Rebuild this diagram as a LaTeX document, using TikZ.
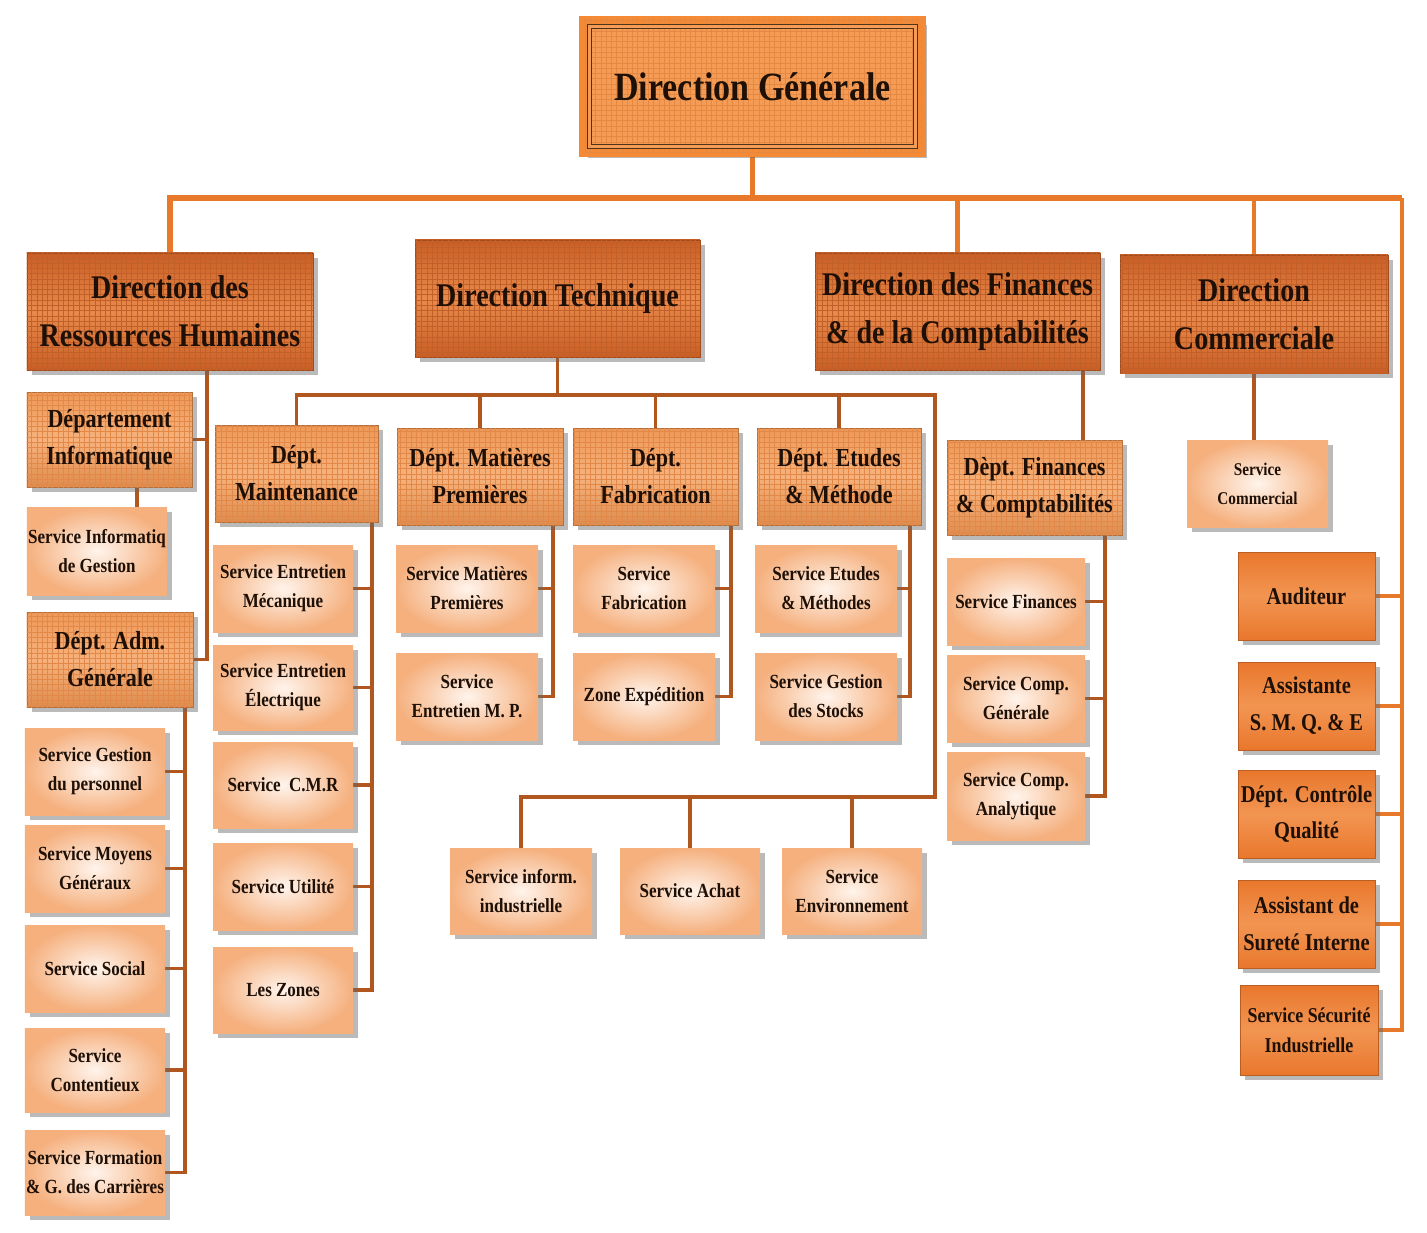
\documentclass[tikz,border=0pt]{standalone}
\usepackage{fontspec}
\newfontfamily\orgfont[FakeStretch=0.85]{Liberation Serif}
\usetikzlibrary{shadows,patterns}
\pgfdeclarelayer{background}
\pgfsetlayers{background,main}
\definecolor{busor}{HTML}{E8782A}
\definecolor{brln}{HTML}{B0561E}
\definecolor{txt}{HTML}{1E1006}
\definecolor{lonem}{HTML}{E98A4C}
\definecolor{lonee}{HTML}{C95E25}
\definecolor{dpt}{HTML}{EE9856}
\definecolor{dptm}{HTML}{F6B27C}
\definecolor{dpte}{HTML}{DE8C4E}
\definecolor{svin}{HTML}{FFF4EC}
\definecolor{svout}{HTML}{F5B07E}
\definecolor{rc}{HTML}{E9772C}
\definecolor{rcm}{HTML}{F29552}
\definecolor{dgfill}{HTML}{F49C55}
\definecolor{dgedge}{HTML}{F58A36}
\definecolor{gridone}{HTML}{C2602A}
\definecolor{griddpt}{HTML}{E2894A}
\definecolor{griddg}{HTML}{E58842}
\newcommand\bx[7]{%
  \pgfmathsetmacro\myxc{(#3+#5)/2}%
  \pgfmathsetmacro\myyc{(#4+#6)/2}%
  \pgfmathsetmacro\myw{(#5-#3)*0.02}%
  \pgfmathsetmacro\myh{(#6-#4)*0.02}%
  \node[#2, minimum width=\myw cm, minimum height=\myh cm] (#1) at (\myxc,\myyc) {#7};}
\tikzset{
  base/.style={inner sep=0pt, align=center, text=txt},
  shd/.style={drop shadow={shadow xshift=3pt, shadow yshift=-3pt, fill=black!60, opacity=.45}},
  grd/.style={postaction={pattern=grid, pattern color=#1}},
  dgbox/.style={base, shd, fill=dgfill, draw=dgedge, line width=4pt, grd=griddg,
    font=\orgfont\bfseries\fontsize{22.8}{27}\selectfont},
  lonebox/.style={base, shd, top color=lonee, bottom color=lonee, middle color=lonem,
    draw=lonee!80!black, line width=0.5pt, grd=gridone,
    font=\orgfont\bfseries\fontsize{18.8}{27.3}\selectfont},
  dptbox/.style={base, shd, top color=dpt, bottom color=dpte, middle color=dptm,
    draw=dpte!80!black, line width=0.4pt, grd=griddpt,
    font=\orgfont\bfseries\fontsize{14.8}{21}\selectfont},
  svbox/.style={base, shd, inner color=svin, outer color=svout,
    font=\orgfont\bfseries\fontsize{11.4}{16.5}\selectfont},
  combox/.style={svbox, font=\orgfont\bfseries\fontsize{10.2}{16.5}\selectfont},
  rcbox/.style={base, shd, top color=rc, bottom color=rc, middle color=rcm,
    draw=rc!80!black, line width=0.4pt,
    font=\orgfont\bfseries\fontsize{13.7}{21}\selectfont},
  rcsmall/.style={rcbox, font=\orgfont\bfseries\fontsize{12}{17}\selectfont},
  mainbus/.style={draw=busor, line width=3.4pt},
  mainline/.style={draw=busor, line width=2.3pt},
  brline/.style={draw=brln, line width=2.2pt},
  dgframe/.style={draw=black!60!brown, line width=0.5pt, double=dgfill, double distance=1.6pt}
}
\begin{document}
\begin{tikzpicture}[x=0.02cm,y=-0.02cm]
\useasboundingbox (0,0) rectangle (1427,1233);
% top
\bx{dg}{dgbox}{583}{20}{922}{153}{Direction Générale}
\draw[dgframe] ([shift={(10,10)}]dg.north west) rectangle ([shift={(-10,-10)}]dg.south east);
% level 1
\bx{drh}{lonebox}{27}{253}{313}{370}{Direction des\\Ressources Humaines}
\bx{dt}{lonebox}{415}{240}{700}{357}{Direction Technique}
\bx{dfc}{lonebox}{815}{253}{1100}{370}{Direction des Finances\\\& de la Comptabilités}
\bx{dc}{lonebox}{1120}{255}{1388}{373}{Direction\\Commerciale}
% RH
\bx{dinf}{dptbox}{27}{392}{192}{487}{Département\\Informatique}
\bx{sig}{svbox}{27}{507}{167}{595}{Service Informatiq\\de Gestion}
\bx{dadm}{dptbox}{27}{612}{193}{707}{Dépt. Adm.\\Générale}
\bx{sgp}{svbox}{25}{728}{165}{815}{Service Gestion\\du personnel}
\bx{smg}{svbox}{25}{825}{165}{912}{Service Moyens\\Généraux}
\bx{ssoc}{svbox}{25}{925}{165}{1012}{Service Social}
\bx{scont}{svbox}{25}{1028}{165}{1112}{Service\\Contentieux}
\bx{sform}{svbox}{25}{1130}{165}{1215}{Service Formation\\\& G. des Carrières}
% Technique
\bx{dmaint}{dptbox}{215}{425}{378}{522}{Dépt.\\Maintenance}
\bx{sem}{svbox}{213}{545}{353}{632}{Service Entretien\\Mécanique}
\bx{see}{svbox}{213}{645}{353}{730}{Service Entretien\\Électrique}
\bx{scmr}{svbox}{213}{742}{353}{828}{Service~~C.M.R}
\bx{sut}{svbox}{213}{843}{353}{930}{Service Utilité}
\bx{zones}{svbox}{213}{947}{353}{1033}{Les Zones}
\bx{dmp}{dptbox}{397}{428}{563}{525}{Dépt. Matières\\Premières}
\bx{smp}{svbox}{396}{545}{538}{632}{Service Matières\\Premières}
\bx{semp}{svbox}{396}{653}{538}{740}{Service\\Entretien M. P.}
\bx{dfab}{dptbox}{573}{428}{738}{525}{Dépt.\\Fabrication}
\bx{sfab}{svbox}{573}{545}{715}{632}{Service\\Fabrication}
\bx{zexp}{svbox}{573}{653}{715}{740}{Zone Expédition}
\bx{detu}{dptbox}{757}{428}{921}{525}{Dépt. Etudes\\\& Méthode}
\bx{setu}{svbox}{755}{545}{897}{632}{Service Etudes\\\& Méthodes}
\bx{sgs}{svbox}{755}{653}{897}{740}{Service Gestion\\des Stocks}
\bx{sii}{svbox}{450}{848}{592}{934}{Service inform.\\industrielle}
\bx{sach}{svbox}{620}{848}{760}{934}{Service Achat}
\bx{senv}{svbox}{782}{848}{922}{934}{Service\\Environnement}
% Finances
\bx{dfin}{dptbox}{947}{440}{1122}{535}{Dèpt. Finances\\\& Comptabilités}
\bx{sfin}{svbox}{947}{558}{1085}{645}{Service Finances}
\bx{scg}{svbox}{947}{655}{1085}{742}{Service Comp.\\Générale}
\bx{sca}{svbox}{947}{752}{1085}{840}{Service Comp.\\Analytique}
% Commerciale
\bx{scom}{combox}{1187}{440}{1328}{527}{Service\\Commercial}
% right column
\bx{aud}{rcbox}{1238}{552}{1375}{640}{Auditeur}
\bx{asmq}{rcbox}{1238}{662}{1375}{750}{Assistante\\S. M. Q. \& E}
\bx{dcq}{rcbox}{1238}{770}{1375}{858}{Dépt. Contrôle\\Qualité}
\bx{asi}{rcbox}{1238}{880}{1375}{968}{Assistant de\\Sureté Interne}
\bx{ssi}{rcsmall}{1240}{985}{1378}{1075}{Service Sécurité\\Industrielle}
% helper coordinates
\coordinate (busR) at (1402,198);
\coordinate (drhv) at (207,0);
\coordinate (infv) at (137,0);
\coordinate (admv) at (185,0);
\coordinate (dtR) at (935,395);
\coordinate (dtB) at (935,797);
\coordinate (mv) at (372,0);
\coordinate (mpv) at (553,0);
\coordinate (fabv) at (731,0);
\coordinate (etv) at (910,0);
\coordinate (fv1) at (1083,0);
\coordinate (fv2) at (1105,0);
\begin{pgfonlayer}{background}
% main bus
\draw[mainline] (dg.south) -- (dg.south |- busR);
\draw[mainbus] (drh.north) |- (busR);
\draw[mainline] (busR) |- (ssi.east);
\draw[mainline] (dfc.north) -- (dfc.north |- busR);
\draw[mainline] (dc.north) -- (dc.north |- busR);
\draw[mainline] (drh.north) -- (drh.north |- busR);
\foreach \n in {aud,asmq,dcq,asi} \draw[mainline] (\n.east) -- (\n.east -| busR);
% RH
\draw[brline] (drh.south -| drhv) |- (dadm.east);
\draw[brline] (dinf.east) -- (dinf.east -| drhv);
\draw[brline] (dinf.south -| infv) -- (sig.north -| infv);
\draw[brline] (dadm.south -| admv) |- (sform.east);
\foreach \n in {sgp,smg,ssoc,scont} \draw[brline] (\n.east) -- (\n.east -| admv);
% Technique
\draw[brline] (dt.south) -- (dt.south |- dtR);
\draw[brline] (dmaint.north) |- (dtR) -- (dtB) -| (sii.north);
\foreach \n in {dmp,dfab,detu} \draw[brline] (\n.north) -- (\n.north |- dtR);
\foreach \n in {sach,senv} \draw[brline] (\n.north) -- (\n.north |- dtB);
\draw[brline] (dmaint.south -| mv) |- (zones.east);
\foreach \n in {sem,see,scmr,sut} \draw[brline] (\n.east) -- (\n.east -| mv);
\draw[brline] (dmp.south -| mpv) |- (semp.east);
\draw[brline] (smp.east) -- (smp.east -| mpv);
\draw[brline] (dfab.south -| fabv) |- (zexp.east);
\draw[brline] (sfab.east) -- (sfab.east -| fabv);
\draw[brline] (detu.south -| etv) |- (sgs.east);
\draw[brline] (setu.east) -- (setu.east -| etv);
% Finances
\draw[brline] (dfc.south -| fv1) -- (dfin.north -| fv1);
\draw[brline] (dfin.south -| fv2) |- (sca.east);
\foreach \n in {sfin,scg} \draw[brline] (\n.east) -- (\n.east -| fv2);
% Commerciale
\draw[brline] (dc.south) -- (dc.south |- scom.north);
\end{pgfonlayer}
\end{tikzpicture}
\end{document}
